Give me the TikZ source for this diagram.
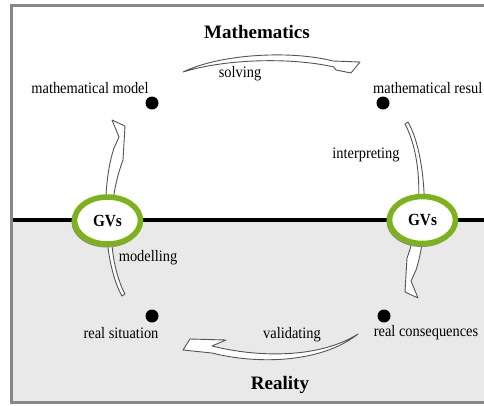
\documentclass[tikz,border=0pt]{standalone}
\usepackage{fontspec}
\setmainfont{Liberation Serif}
\newfontfamily\narrowserif{Liberation Serif}[FakeStretch=0.9]
\usetikzlibrary{shapes.geometric}
\definecolor{gvgreen}{RGB}{125,178,28}
\definecolor{realgray}{RGB}{233,233,233}
\definecolor{framegray}{RGB}{135,135,135}
\definecolor{arrowline}{RGB}{85,85,85}
\tikzset{
  labeltext/.style={font=\narrowserif\fontsize{16}{18}\selectfont, inner sep=0pt},
  heading/.style={font=\bfseries\fontsize{19}{22}\selectfont, inner sep=0pt},
  stage/.style={circle, fill=black, inner sep=0pt, minimum size=13pt},
  bandarrow/.style={draw=arrowline, fill=white, line width=0.9pt, line join=round},
  gvring/.style={ellipse, draw=gvgreen, fill=white, line width=5.5pt,
    minimum width=66pt, minimum height=47pt, inner sep=0pt,
    font=\narrowserif\bfseries\fontsize{17}{19}\selectfont},
  gvshadow/.style={ellipse, draw=black!45, line width=4pt,
    minimum width=66pt, minimum height=47pt, inner sep=0pt},
}
\begin{document}
\begin{tikzpicture}[x=1pt, y=-1pt]
  \clip (0,0) rectangle (484,405);
  \fill[white] (0,0) rectangle (484,405);

  % the two worlds: mathematics above, reality below
  \fill[realgray] (12,220) rectangle (484,402);
  \draw[framegray, line width=3pt] (500,5.5) -- (11.5,5.5) -- (11.5,402.5) -- (500,402.5);
  \draw[black, line width=3.5pt] (13,220) -- (484,220);

  % stages of the cycle
  \node[stage] (mmodel) at (152,103) {};
  \node[stage] (mresult) at (383,103) {};
  \node[stage] (rsit) at (152,316) {};
  \node[stage] (rcons) at (384,316) {};

  % named ends of the curved block arrows
  \coordinate (solveTail) at (183,72);
  \coordinate (solveTip) at (360,62);
  \coordinate (validTail) at (358,334);
  \coordinate (validTip) at (183,350);
  \coordinate (modelTail) at (122,296);
  \coordinate (modelTip) at (112,120);

  % solving: model -> result
  \draw[bandarrow] (solveTail) .. controls (220,54) and (290,50) .. (333,61)
    -- (solveTip) -- (351,73) -- (336,70) -- (334,67)
    .. controls (290,57) and (225,59) .. cycle;

  % validating: consequences -> situation
  \draw[bandarrow] (validTail) .. controls (320,358) and (260,358) .. (212,346)
    -- (226,340) -- (190,339) -- (validTip) -- (212,353)
    .. controls (255,364) and (320,364) .. cycle;

  % modelling: situation -> model
  \draw[bandarrow] (modelTail) .. controls (104,265) and (100,190) .. (114,148)
    -- (119,137) -- (modelTip) -- (125,126) -- (123,160)
    .. controls (106,205) and (108,262) .. (125,294) -- cycle;

  % interpreting: result -> consequences (the modelling arrow turned half round)
  \begin{scope}[rotate around={180:(265,209)}]
    \coordinate (interpTail) at (122,296);
    \coordinate (interpTip) at (112,120);
    \draw[bandarrow] (interpTail) .. controls (104,265) and (100,190) .. (114,148)
      -- (119,137) -- (interpTip) -- (125,126) -- (123,160)
      .. controls (106,205) and (108,262) .. (125,294) -- cycle;
  \end{scope}

  % GV rings on the border line
  \node[gvshadow] (gvLshadow) at (106.5,222) {};
  \node[gvshadow] (gvRshadow) at (421.5,221.5) {};
  \node[gvring] (gvL) at (107.5,220.5) {GVs};
  \node[gvring] (gvR) at (422.5,220) {GVs};

  % headings
  \node[heading] (math) at (257,32) {Mathematics};
  \node[heading] (real) at (280,385) {Reality};

  % stage labels
  \node[labeltext] (mmodelLabel) at (90,88) {mathematical model};
  \node[labeltext, anchor=west] (mresultLabel) at (373,88) {mathematical resul};
  \node[labeltext] (rsitLabel) at (121,333) {real situation};
  \node[labeltext] (rconsLabel) at (426,333) {real consequences};

  % process labels
  \node[labeltext] (solvingLabel) at (240,74) {solving};
  \node[labeltext] (interpLabel) at (366,155) {interpreting};
  \node[labeltext] (modelLabel) at (148,258) {modelling};
  \node[labeltext] (validLabel) at (292,335) {validating};
\end{tikzpicture}
\end{document}
